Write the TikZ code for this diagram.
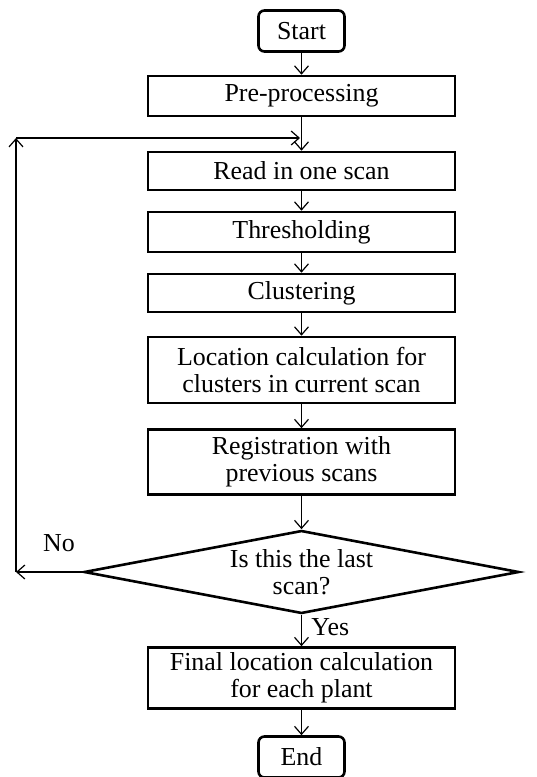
\documentclass[tikz,border=0pt]{standalone}
\usepackage{fontspec}
\setmainfont{Liberation Serif}
\usetikzlibrary{arrows.meta,shapes.geometric}
\tikzset{
  flowbox/.style={draw, line width=2.6bp, minimum width=307bp, inner sep=0pt, align=center},
  termbox/.style={draw, line width=2.6bp, rounded corners=6bp, minimum width=86bp, minimum height=41bp, inner sep=0pt},
  flowarrow/.style={line width=1.2bp, -{Straight Barb[length=8bp,width=14bp,line width=1.2bp]}}
}

\begin{document}
\begin{tikzpicture}[x=1bp,y=-1bp,font=\fontsize{26}{27}\selectfont]
    \useasboundingbox (0,0) rectangle (537,777);

    \node[termbox] (start) at (301.5,31) {Start};
    \node[flowbox, minimum height=40bp] (pre) at (301.5,96) {Pre-processing};
    \node[flowbox, minimum height=38bp] (read) at (301.5,171) {Read in one scan};
    \node[flowbox, minimum height=40bp] (thresh) at (301.5,232) {Thresholding};
    \node[flowbox, minimum height=38bp] (clust) at (301.5,293) {Clustering};
    \node[flowbox, minimum height=66bp] (loc) at (301.5,370) {Location calculation for\\clusters in current scan};
    \node[flowbox, minimum height=65bp] (reg) at (301.5,462) {Registration with\\previous scans};
    \node[draw, diamond, line width=2.6bp, aspect=5.24, minimum width=435bp, minimum height=83bp, inner sep=0pt, align=center] (last) at (301.5,572) {Is this the last\\scan?};
    \node[flowbox, minimum height=61bp] (final) at (301.5,678) {Final location calculation\\for each plant};
    \node[termbox] (end) at (301.5,757) {End};

    \draw[flowarrow] (start) -- (pre);
    \draw[flowarrow] (pre) -- (read);
    \draw[flowarrow] (read) -- (thresh);
    \draw[flowarrow] (thresh) -- (clust);
    \draw[flowarrow] (clust) -- (loc);
    \draw[flowarrow] (loc) -- (reg);
    \draw[flowarrow] (reg) -- (last);
    \draw[flowarrow] (last) -- (final) node[pos=0.4, right=6bp] (yes) {Yes};
    \draw[flowarrow] (final) -- (end);

    % loop back when not the last scan
    \coordinate (nocorner) at (16,572);
    \coordinate (backcorner) at (16,138);
    \coordinate (backin) at (300,138);
    \draw[flowarrow] (last.west) -- (nocorner);
    \draw[flowarrow] (nocorner) -- (backcorner);
    \draw[flowarrow] (backcorner) -- (backin);
    \node (no) at (59,543) {No};
\end{tikzpicture}
\end{document}
